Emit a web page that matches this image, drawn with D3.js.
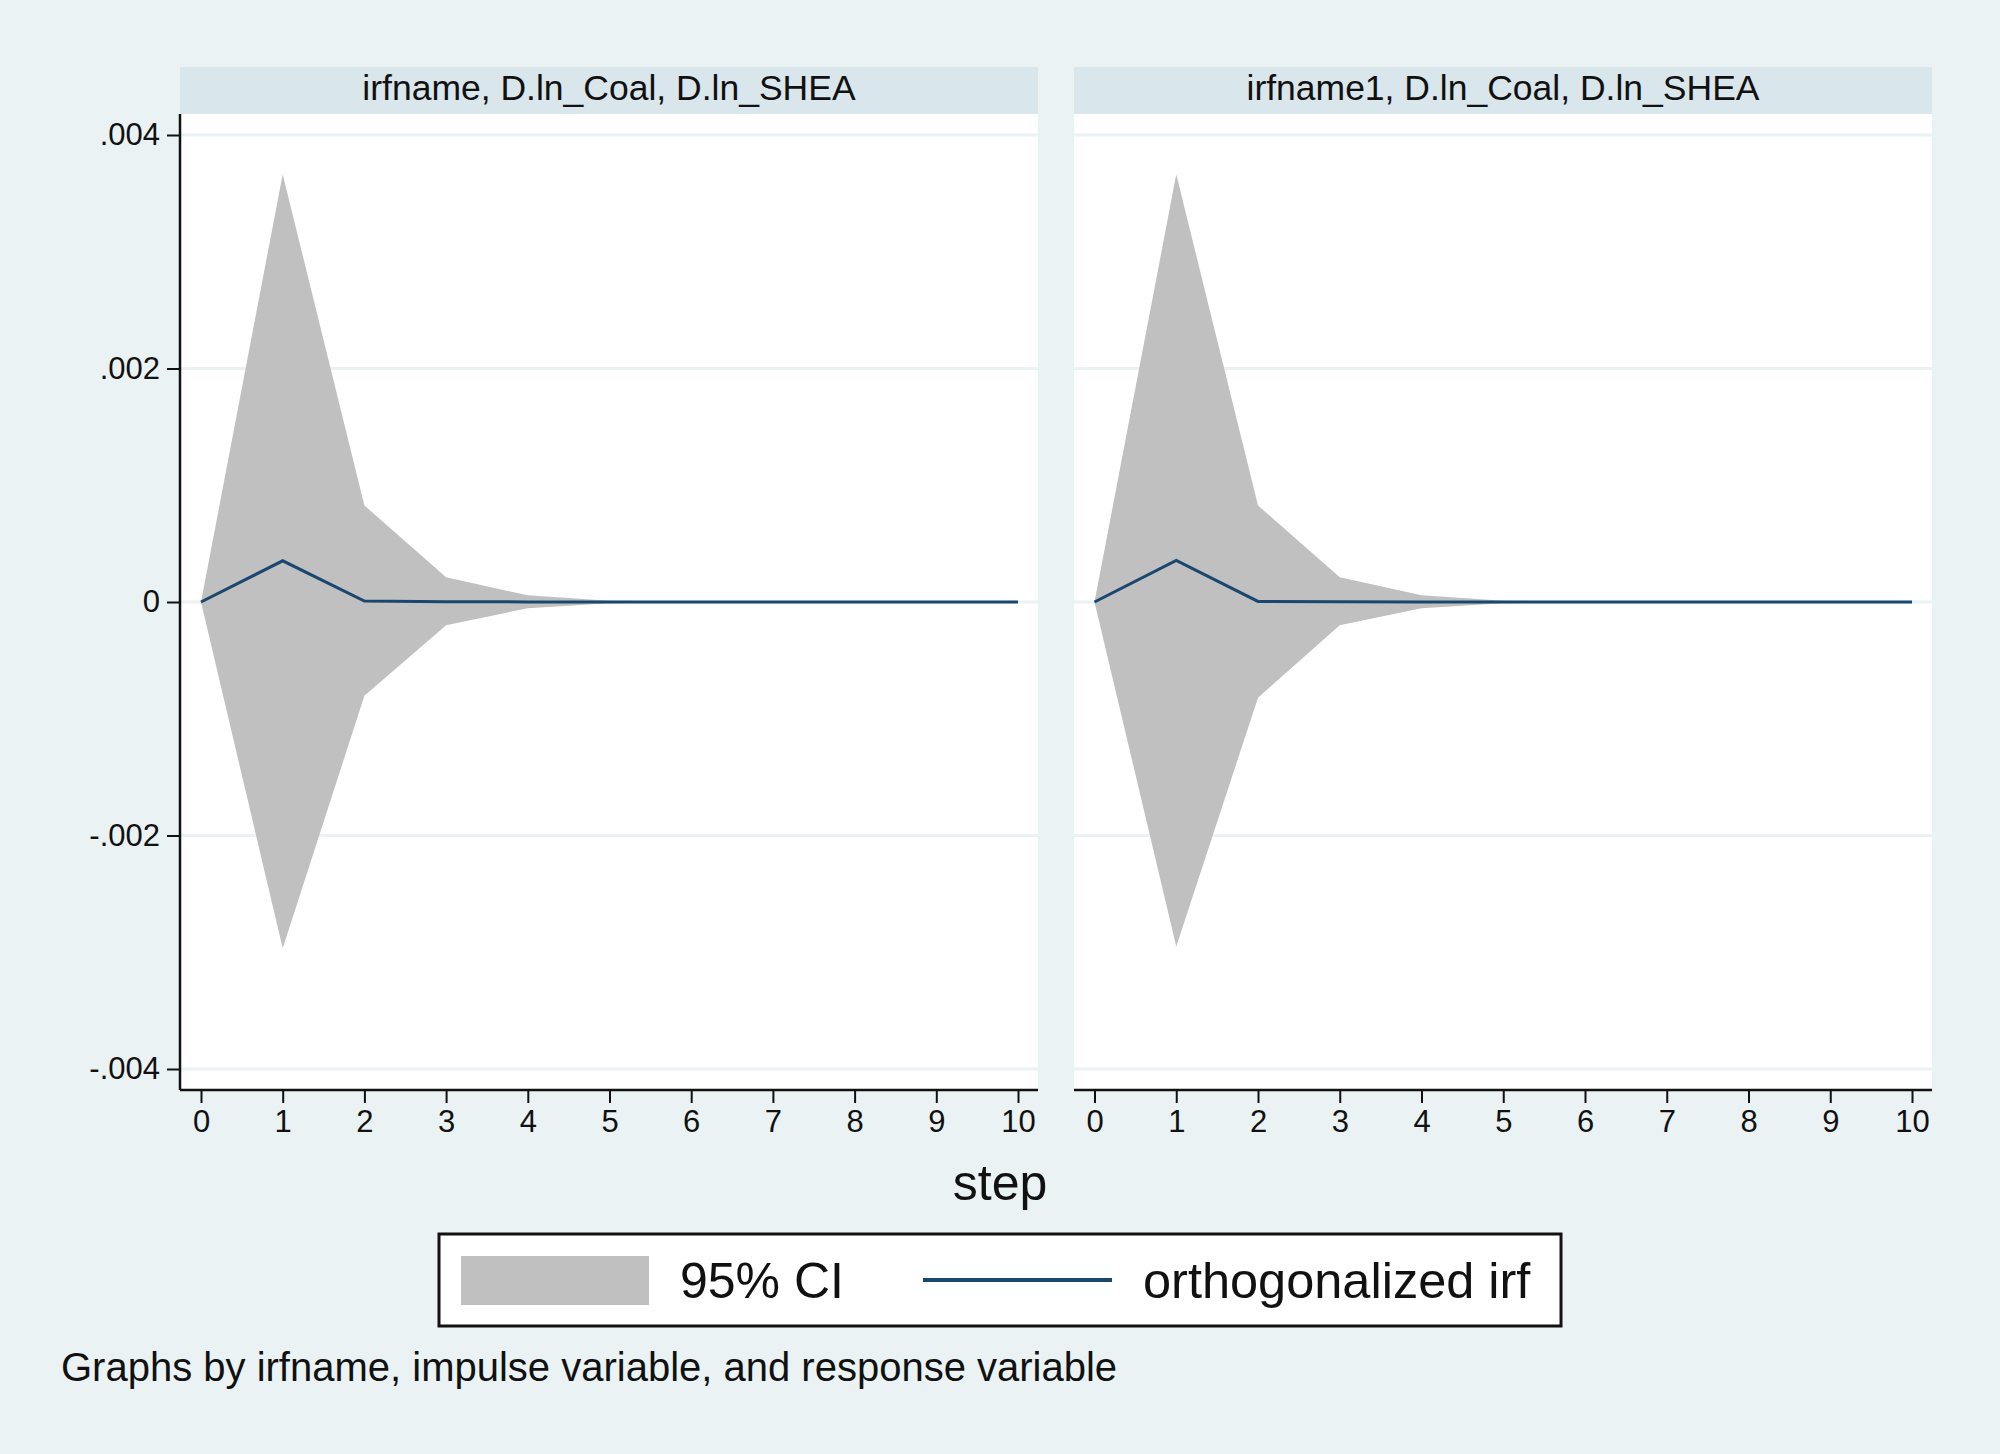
<!DOCTYPE html>
<html>
<head>
<meta charset="utf-8">
<script src="https://cdn.jsdelivr.net/npm/d3@7"></script>
<style>
  body { margin: 0; background: #EAF2F3; }
  svg { display: block; font-family: "Liberation Sans", Arial, sans-serif; }
</style>
</head>
<body>
<svg></svg>
<script>
const width = 2000;
const height = 1454;

/* -------------------------
   DATA
--------------------------*/
const steps = [0, 1, 2, 3, 4, 5, 6, 7, 8, 9, 10];

const panelTitles = ["irfname, D.ln_Coal, D.ln_SHEA", "irfname1, D.ln_Coal, D.ln_SHEA"];

// irfname
const irf0   = [0, 0.000353, 0.000008, 0.000002, 0.000001, 0, 0.000001, 0, 0, 0, 0];
const upper0 = [0, 0.003663, 0.000827, 0.000211, 0.000057, 0.000010, 0.000003, 0.000001, 0, 0, 0];
const lower0 = [0, -0.002966, -0.000803, -0.000200, -0.000053, -0.000010, -0.000003, -0.000001, 0, 0, 0];

// irfname1
const irf1   = [0, 0.000356, 0.000005, 0.000003, 0.000001, 0, 0, 0, 0, 0, 0];
const upper1 = [0, 0.003663, 0.000827, 0.000211, 0.000057, 0.000010, 0.000003, 0.000001, 0, 0, 0];
const lower1 = [0, -0.002950, -0.000820, -0.000200, -0.000053, -0.000010, -0.000003, -0.000001, 0, 0, 0];

const yTicks = [-0.004, -0.002, 0, 0.002, 0.004];
const yTickLabels = ["-.004", "-.002", "0", ".002", ".004"];

const legendLabels = ["95% CI", "orthogonalized irf"];

const COLORS = {
  bg: "#EAF2F3",
  strip: "#D9E6EB",
  grid: "#EAF2F3",
  ci: "#C0C0C0",
  irf: "#1A476F"
};

/* -------------------------
   SVG
--------------------------*/
const svg = d3.select("svg")
  .attr("width", width)
  .attr("height", height);

svg.append("rect")
  .attr("width", width)
  .attr("height", height)
  .attr("fill", COLORS.bg);

const panels = [
  { title: panelTitles[0], left: 180, right: 1038, x0: 201, x1: 1018, irf: irf0, lo: lower0, hi: upper0, yaxis: true },
  { title: panelTitles[1], left: 1074, right: 1932, x0: 1094.5, x1: 1912, irf: irf1, lo: lower1, hi: upper1, yaxis: false }
];

const stripTop = 67, stripBottom = 114, plotBottom = 1090;

const y = d3.scaleLinear().domain([-0.004, 0.004]).range([1069, 135]);

panels.forEach(p => {
  const x = d3.scaleLinear().domain([0, 10]).range([p.x0, p.x1]);
  const g = svg.append("g");

  /* strip */
  g.append("rect")
    .attr("x", p.left).attr("y", stripTop)
    .attr("width", p.right - p.left).attr("height", stripBottom - stripTop)
    .attr("fill", COLORS.strip);

  g.append("text")
    .attr("x", (p.left + p.right) / 2)
    .attr("y", 100)
    .attr("text-anchor", "middle")
    .style("font-size", "35.5px")
    .style("fill", "#111")
    .text(p.title);

  /* plot region */
  g.append("rect")
    .attr("x", p.left).attr("y", stripBottom)
    .attr("width", p.right - p.left).attr("height", plotBottom - stripBottom)
    .attr("fill", "white");

  /* grid */
  g.append("g")
    .selectAll("line")
    .data(yTicks)
    .enter()
    .append("line")
    .attr("x1", p.left).attr("x2", p.right)
    .attr("y1", d => y(d)).attr("y2", d => y(d))
    .attr("stroke", COLORS.grid)
    .attr("stroke-width", 3);

  /* CI band */
  const area = d3.area()
    .x((d, i) => x(steps[i]))
    .y0((d, i) => y(p.lo[i]))
    .y1((d, i) => y(p.hi[i]));

  g.append("path")
    .datum(steps)
    .attr("d", area)
    .attr("fill", COLORS.ci);

  /* irf line */
  const line = d3.line()
    .x((d, i) => x(steps[i]))
    .y(d => y(d));

  g.append("path")
    .datum(p.irf)
    .attr("d", line)
    .attr("fill", "none")
    .attr("stroke", COLORS.irf)
    .attr("stroke-width", 3);

  /* x axis */
  const xAxis = g.append("g")
    .attr("transform", `translate(0,${plotBottom})`)
    .call(d3.axisBottom(x).tickValues(steps).tickFormat(d3.format("d")).tickSize(13).tickSizeOuter(0).tickPadding(7));
  xAxis.select(".domain").remove();
  xAxis.selectAll(".tick line").attr("stroke", "#111").attr("stroke-width", 2);
  xAxis.selectAll(".tick text").style("font-size", "31px").style("fill", "#111")
    .style("font-family", "'Liberation Sans', Arial, sans-serif");

  g.append("line")
    .attr("x1", p.left).attr("x2", p.right)
    .attr("y1", plotBottom).attr("y2", plotBottom)
    .attr("stroke", "#111").attr("stroke-width", 2.5);

  /* y axis */
  if (p.yaxis) {
    const yAxis = g.append("g")
      .attr("transform", `translate(${p.left},0)`)
      .call(d3.axisLeft(y).tickValues(yTicks)
        .tickFormat((d, i) => yTickLabels[i])
        .tickSize(13).tickSizeOuter(0).tickPadding(7));
    yAxis.select(".domain").remove();
    yAxis.selectAll(".tick line").attr("stroke", "#111").attr("stroke-width", 2);
    yAxis.selectAll(".tick text").style("font-size", "31px").style("fill", "#111")
      .style("font-family", "'Liberation Sans', Arial, sans-serif");

    g.append("line")
      .attr("x1", p.left).attr("x2", p.left)
      .attr("y1", stripBottom).attr("y2", plotBottom)
      .attr("stroke", "#111").attr("stroke-width", 2.5);
  }
});

/* -------------------------
   AXIS TITLE
--------------------------*/
svg.append("text")
  .attr("x", 1000)
  .attr("y", 1200)
  .attr("text-anchor", "middle")
  .style("font-size", "50px")
  .style("fill", "#111")
  .text("step");

/* -------------------------
   LEGEND
--------------------------*/
const legend = svg.append("g");

legend.append("rect")
  .attr("x", 439).attr("y", 1234)
  .attr("width", 1122).attr("height", 92)
  .attr("fill", "white")
  .attr("stroke", "#111")
  .attr("stroke-width", 3);

legend.append("rect")
  .attr("x", 461).attr("y", 1256)
  .attr("width", 188).attr("height", 49)
  .attr("fill", COLORS.ci);

legend.append("text")
  .attr("x", 680).attr("y", 1298)
  .style("font-size", "50px")
  .style("fill", "#111")
  .text(legendLabels[0]);

legend.append("line")
  .attr("x1", 923).attr("x2", 1112)
  .attr("y1", 1280).attr("y2", 1280)
  .attr("stroke", COLORS.irf)
  .attr("stroke-width", 4);

legend.append("text")
  .attr("x", 1143).attr("y", 1298)
  .style("font-size", "50.5px")
  .style("fill", "#111")
  .text(legendLabels[1]);

/* -------------------------
   NOTE
--------------------------*/
svg.append("text")
  .attr("x", 61).attr("y", 1381)
  .style("font-size", "40px")
  .style("fill", "#111")
  .text("Graphs by irfname, impulse variable, and response variable");
</script>
</body>
</html>
